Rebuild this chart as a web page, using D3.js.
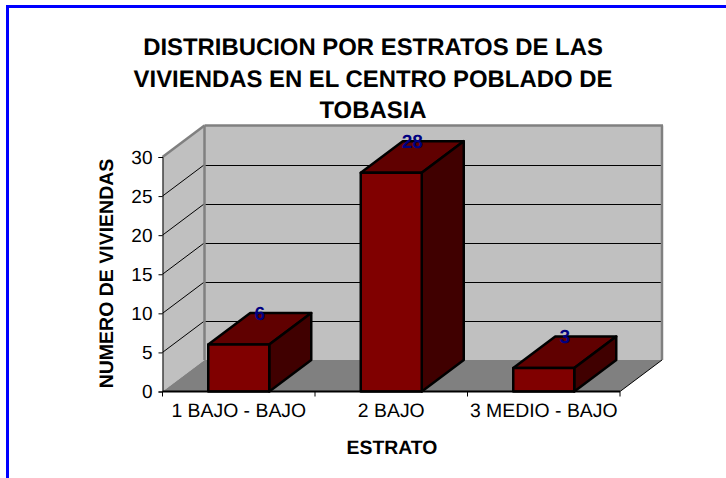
<!DOCTYPE html>
<html><head><meta charset="utf-8">
<script src="https://cdn.jsdelivr.net/npm/d3@7"></script>
<style>html,body{margin:0;padding:0;background:#fff}svg{display:block}text{font-family:"Liberation Sans",Arial,sans-serif;text-rendering:geometricPrecision}</style>
</head><body><div id="c"></div>
<script>
const categories = ["1 BAJO - BAJO","2 BAJO","3 MEDIO - BAJO"];
const values = [6,28,3];
const yTicks = [0,5,10,15,20,25,30];
const titleLines = ["DISTRIBUCION POR ESTRATOS DE LAS","VIVIENDAS EN EL CENTRO POBLADO DE","TOBASIA"];
const yTitle = "NUMERO DE VIVIENDAS";
const xTitle = "ESTRATO";

const W=726,H=478, left=162.5,right=620, y0=391.5,yTop=157, dx=42,dy=-31.5;
const svg=d3.select("#c").append("svg").attr("width",W).attr("height",H);
const x=d3.scaleBand().domain(categories).range([left,right]).paddingInner(0.6).paddingOuter(0.3);
const y=d3.scaleLinear().domain([0,30]).range([y0,yTop]);
const poly=(pts,fill,stroke,sw)=>svg.append("polygon").attr("points",pts.map(p=>p.join(",")).join(" "))
  .attr("fill",fill).attr("stroke",stroke||"none").attr("stroke-width",sw||0).attr("stroke-linejoin","round");

// frame
svg.append("rect").attr("x",6).attr("y",5).attr("width",W-6).attr("height",3).attr("fill","#0000ff");
svg.append("rect").attr("x",6).attr("y",5).attr("width",3).attr("height",H-5).attr("fill","#0000ff");

// title
svg.append("g").selectAll("text").data(titleLines).join("text")
  .attr("x",373).attr("y",(d,i)=>[55,86.5,118][i]).attr("text-anchor","middle")
  .attr("font-size",23.9).attr("font-weight","bold").attr("fill","#000").text(d=>d);

// walls
const yMax=y(30);
poly([[left+dx,yMax+dy],[right+dx,yMax+dy],[right+dx,y0+dy],[left+dx,y0+dy]],"#c0c0c0");
poly([[left,yMax],[left+dx,yMax+dy],[left+dx,y0+dy],[left,y0]],"#c0c0c0");
poly([[left,y0],[right,y0],[right+dx,y0+dy],[left+dx,y0+dy]],"#808080");

// gridlines
const grid=svg.append("g");
yTicks.filter(t=>t>0&&t<30).forEach(t=>{
  const gy=Math.round(y(t)+dy)+0.5;
  grid.append("line").attr("x1",left+dx).attr("x2",right+dx-1).attr("y1",gy).attr("y2",gy).attr("stroke","#000").attr("stroke-width",1);
  grid.append("line").attr("x1",left).attr("x2",left+dx).attr("y1",y(t)).attr("y2",y(t)+dy).attr("stroke","#000").attr("stroke-width",1);
});
// wall edges
const edge=(a,b,c,d)=>svg.append("line").attr("x1",a).attr("y1",b).attr("x2",c).attr("y2",d).attr("stroke","#808080").attr("stroke-width",2.5);
edge(left,yMax,left+dx,yMax+dy);
edge(left+dx,yMax+dy,right+dx+1,yMax+dy);
edge(left+dx,yMax+dy,left+dx,y0+dy);
edge(right+dx,yMax+dy,right+dx,y0+dy);
svg.append("line").attr("x1",right).attr("y1",y0).attr("x2",right+dx).attr("y2",y0+dy).attr("stroke","#000").attr("stroke-width",1);

// bars
categories.forEach((c,i)=>{
  const a=x(c),b=a+x.bandwidth(),t=y(values[i]);
  poly([[a,t],[a+dx,t+dy],[b+dx,t+dy],[b,t]],"#600000","#000",2.5);
  poly([[b,t],[b+dx,t+dy],[b+dx,y0+dy],[b,y0]],"#400000","#000",2.5);
  poly([[a,t],[b,t],[b,y0],[a,y0]],"#800000","#000",2.5);
});

// axes
const yAxis=svg.append("g").attr("transform",`translate(${left},0)`).call(d3.axisLeft(y).tickValues(yTicks).tickSize(4).tickPadding(6));
yAxis.selectAll("text").attr("font-size",19).attr("font-family",null).attr("fill","#000");
yAxis.select(".domain").attr("stroke","#000").attr("stroke-width",1);
const xAxis=svg.append("g").attr("transform",`translate(0,${y0})`).call(d3.axisBottom(x).tickSize(0).tickPadding(12));
xAxis.selectAll("text").attr("font-size",19.4).attr("font-family",null).attr("fill","#000");
xAxis.select(".domain").remove();
svg.append("line").attr("x1",left).attr("x2",right).attr("y1",y0).attr("y2",y0).attr("stroke","#000").attr("stroke-width",2);
svg.append("g").selectAll("line").data(d3.range(categories.length+1)).join("line")
  .attr("x1",i=>left+i*x.step()).attr("x2",i=>left+i*x.step()).attr("y1",y0).attr("y2",y0+5).attr("stroke","#000");

// data labels
svg.append("g").selectAll("text").data(values).join("text")
  .attr("x",(d,i)=>x(categories[i])+x.bandwidth()/2+dx/2).attr("y",d=>y(d)+dy+6.5)
  .attr("text-anchor","middle").attr("font-size",19).attr("font-weight","bold").attr("fill","#000080").text(d=>d);

// axis titles
svg.append("text").attr("transform","translate(112.5,273.5) rotate(-90)").attr("text-anchor","middle")
  .attr("font-size",19.5).attr("font-weight","bold").text(yTitle);
svg.append("text").attr("x",392).attr("y",454).attr("text-anchor","middle")
  .attr("font-size",19.4).attr("font-weight","bold").text(xTitle);
</script></body></html>
